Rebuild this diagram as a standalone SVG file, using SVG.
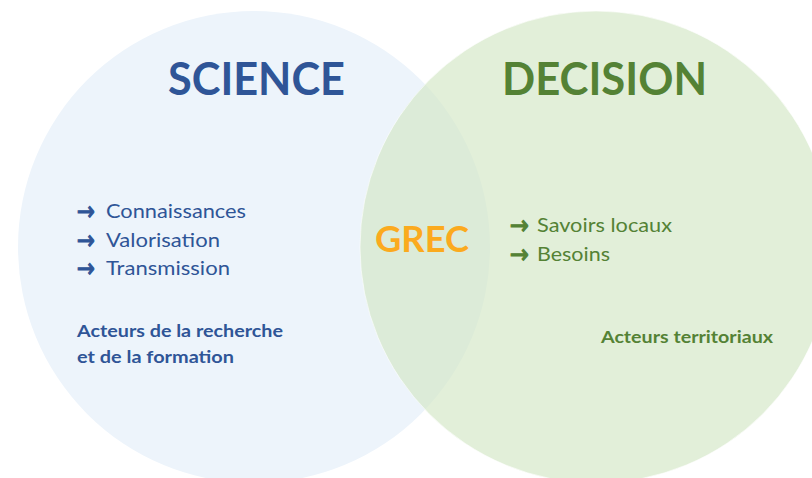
<svg xmlns="http://www.w3.org/2000/svg" width="812" height="478" viewBox="0 0 812 478">
<style>
  .t { font-family: Lato, "Open Sans", "Liberation Sans", sans-serif; }
  .b { font-weight: bold; }
  .blue { fill: #2F5597; }
  .green { fill: #548235; }
  .arr { font-family: "DejaVu Sans", "Liberation Sans", sans-serif; font-size: 26px; stroke-width: 1.1; }
  .arr.blue { stroke: #2F5597; }
  .arr.green { stroke: #548235; }
  .item { font-size: 20px; }
</style>
<rect width="812" height="478" fill="#FFFFFF"/>
<g id="science">
  <circle cx="254" cy="247" r="236" fill="#EDF4FB"/>
  <text class="t b blue" x="168" y="95" font-size="46" textLength="177" lengthAdjust="spacingAndGlyphs">SCIENCE</text>
  <text class="arr blue" x="77" y="220" textLength="18" lengthAdjust="spacingAndGlyphs">→</text>
  <text class="t item blue" x="106" y="218" textLength="140" lengthAdjust="spacingAndGlyphs">Connaissances</text>
  <text class="arr blue" x="77" y="249" textLength="18" lengthAdjust="spacingAndGlyphs">→</text>
  <text class="t item blue" x="106" y="247" textLength="114" lengthAdjust="spacingAndGlyphs">Valorisation</text>
  <text class="arr blue" x="77" y="277" textLength="18" lengthAdjust="spacingAndGlyphs">→</text>
  <text class="t item blue" x="106" y="275" textLength="124" lengthAdjust="spacingAndGlyphs">Transmission</text>
  <text class="t b blue" x="77" y="337" font-size="17" textLength="206" lengthAdjust="spacingAndGlyphs">Acteurs de la recherche</text>
  <text class="t b blue" x="77" y="363" font-size="17" textLength="157" lengthAdjust="spacingAndGlyphs">et de la formation</text>
</g>
<g id="decision">
  <circle cx="596" cy="247" r="236" fill="#D2E6C4" fill-opacity="0.65" stroke="#FFFFFF" stroke-opacity="0.6" stroke-width="1"/>
  <text class="t b green" x="502" y="95" font-size="46" textLength="205" lengthAdjust="spacingAndGlyphs">DECISION</text>
  <text class="arr green" x="510" y="234" textLength="19" lengthAdjust="spacingAndGlyphs">→</text>
  <text class="t item green" x="537" y="232" textLength="135" lengthAdjust="spacingAndGlyphs">Savoirs locaux</text>
  <text class="arr green" x="510" y="263" textLength="19" lengthAdjust="spacingAndGlyphs">→</text>
  <text class="t item green" x="537" y="261" textLength="73" lengthAdjust="spacingAndGlyphs">Besoins</text>
  <text class="t b green" x="601" y="343" font-size="17" textLength="172" lengthAdjust="spacingAndGlyphs">Acteurs territoriaux</text>
</g>
<g id="grec">
  <text class="t b" x="375" y="252" font-size="37" fill="#FBAA1E" textLength="94" lengthAdjust="spacingAndGlyphs">GREC</text>
</g>
<g id="connectors"></g>
</svg>
